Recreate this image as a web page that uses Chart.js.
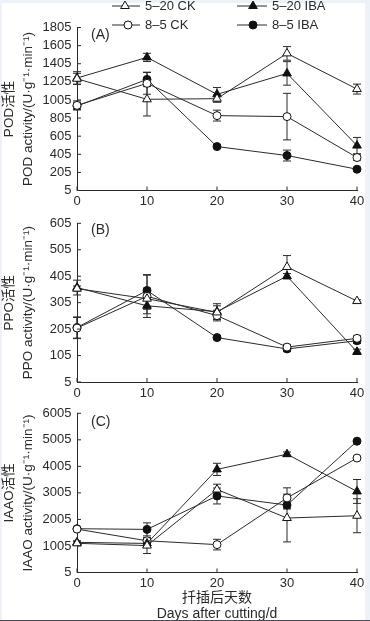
<!DOCTYPE html>
<html><head><meta charset="utf-8">
<script src="https://cdn.jsdelivr.net/npm/chart.js@4.4.1/dist/chart.umd.min.js"></script>
<style>
html,body{margin:0;padding:0;overflow:hidden;background:#edf2f9;width:370px;height:621px;}
#frame{position:absolute;left:2px;top:3px;width:363px;height:617px;background:#fff;}
#bottomline{position:absolute;left:0;top:620px;width:370px;height:1px;background:#4a4a58;}
canvas{position:absolute;left:0;}
</style></head><body>
<div id="frame"></div>
<canvas id="cA" width="370" height="210" style="top:0px"></canvas>
<canvas id="cB" width="370" height="190" style="top:210px"></canvas>
<canvas id="cC" width="370" height="225" style="top:400px"></canvas>
<div id="bottomline"></div>
<script>
// ---- data ----
const days = [0, 10, 20, 30, 40];
const seriesNames = ['5–20 CK', '5–20 IBA', '8–5 CK', '8–5 IBA'];

const podCK520  = [1239, 1012, 1019, 1519, 1125];
const podIBA520 = [1247, 1475, 1067, 1298, 501];
const podCK85   = [945, 1188, 832, 821, 369];
const podIBA85  = [938, 1232, 490, 391, 240];
const podErrCK520  = [60, 184, 40, 75, 55];
const podErrIBA520 = [70, 45, 75, 130, 90];
const podErrCK85   = [50, 120, 60, 257, 30];
const podErrIBA85  = [40, 80, 20, 60, 20];

const ppoCK520  = [358, 320, 268, 440, 311];
const ppoIBA520 = [362, 293, 271, 405, 119];
const ppoCK85   = [209, 329, 256, 137, 170];
const ppoIBA85  = [211, 351, 173, 130, 161];
const ppoErrCK520  = [10, 40, 25, 43, 5];
const ppoErrIBA520 = [28, 30, 30, 10, 10];
const ppoErrCK85   = [40, 80, 20, 10, 10];
const ppoErrIBA85  = [40, 60, 8, 10, 10];

const iaaoCK520  = [1105, 1020, 3133, 2058, 2144];
const iaaoIBA520 = [1141, 1100, 3891, 4465, 3060];
const iaaoCK85   = [1640, 1200, 1056, 2816, 4319];
const iaaoIBA85  = [1655, 1630, 2889, 2547, 4954];
const iaaoErrCK520  = [60, 300, 200, 900, 640];
const iaaoErrIBA520 = [60, 150, 230, 80, 450];
const iaaoErrCK85   = [60, 100, 200, 380, 60];
const iaaoErrIBA85  = [60, 245, 300, 150, 60];

const podTicks  = [5, 205, 405, 605, 805, 1005, 1205, 1405, 1605, 1805];
const ppoTicks  = [5, 105, 205, 305, 405, 505, 605];
const iaaoTicks = [5, 1005, 2005, 3005, 4005, 5005, 6005];
const xTicks = [0, 10, 20, 30, 40];

const podTitle  = ['POD活性', 'POD activity/(U·g⁻¹·min⁻¹)'];
const ppoTitle  = ['PPO活性', 'PPO activity/(U·g⁻¹·min⁻¹)'];
const iaaoTitle = ['IAAO活性', 'IAAO activity/(U·g⁻¹·min⁻¹)'];
const xTitle = ['扦插后天数', 'Days after cutting/d'];

// ---- styling ----
const FONT = "'Liberation Sans', 'Noto Sans CJK SC', sans-serif";
const INK = '#2a2a2a';
const styles = [
  {pointStyle: 'triangle', fill: '#ffffff', radius: 5},
  {pointStyle: 'triangle', fill: '#111111', radius: 5},
  {pointStyle: 'circle', fill: '#ffffff', radius: 4},
  {pointStyle: 'circle', fill: '#111111', radius: 4}
];

function makeDatasets(valueSets, errSets) {
  return valueSets.map((vals, s) => ({
    label: seriesNames[s],
    data: days.map((d, i) => ({x: d, y: vals[i]})),
    errors: errSets[s],
    borderColor: INK,
    borderWidth: 1,
    pointStyle: styles[s].pointStyle,
    pointRadius: styles[s].radius,
    pointHoverRadius: styles[s].radius,
    pointBackgroundColor: styles[s].fill,
    pointBorderColor: '#111',
    pointBorderWidth: 1,
    tension: 0,
    clip: false,
    fill: false
  }));
}

const errorBarPlugin = {
  id: 'errbars',
  beforeDatasetsDraw(chart) {
    const {ctx, scales: {x, y}} = chart;
    ctx.save();
    ctx.strokeStyle = INK; ctx.lineWidth = 1;
    chart.data.datasets.forEach(ds => {
      ds.data.forEach((p, i) => {
        const e = ds.errors[i]; if (!e) return;
        const px = x.getPixelForValue(p.x);
        const y1 = y.getPixelForValue(p.y + e), y2 = y.getPixelForValue(p.y - e);
        ctx.beginPath();
        ctx.moveTo(px, y1); ctx.lineTo(px, y2);
        ctx.moveTo(px - 4, y1); ctx.lineTo(px + 4, y1);
        ctx.moveTo(px - 4, y2); ctx.lineTo(px + 4, y2);
        ctx.stroke();
      });
    });
    ctx.restore();
  }
};

const innerTicksPlugin = {
  id: 'innerTicks',
  afterDraw(chart) {
    const {ctx, scales: {x, y}, chartArea: a} = chart;
    ctx.save();
    ctx.strokeStyle = INK; ctx.lineWidth = 1;
    ctx.beginPath();
    y.ticks.forEach(t => { const py = y.getPixelForValue(t.value); ctx.moveTo(a.left, py); ctx.lineTo(a.left + 4, py); });
    x.ticks.forEach(t => { const px = x.getPixelForValue(t.value); ctx.moveTo(px, a.bottom); ctx.lineTo(px, a.bottom - 4); });
    ctx.stroke();
    ctx.restore();
  }
};

const panelLabelPlugin = {
  id: 'panelLabel',
  afterDraw(chart, args, opts) {
    if (!opts.text) return;
    const {ctx, chartArea: a} = chart;
    ctx.save();
    ctx.fillStyle = INK;
    ctx.font = '14px ' + FONT;
    ctx.textBaseline = 'middle';
    ctx.textAlign = 'left';
    ctx.fillText(opts.text, a.left + 14, a.top + opts.dy);
    ctx.restore();
  }
};

const legendPlugin = {
  id: 'customLegend',
  afterDraw(chart, args, opts) {
    if (!opts.items) return;
    const {ctx} = chart;
    ctx.save();
    opts.items.forEach((it, s) => {
      const ds = chart.data.datasets[s];
      ctx.strokeStyle = INK; ctx.lineWidth = 1;
      ctx.beginPath(); ctx.moveTo(it.x0, it.y); ctx.lineTo(it.x1, it.y); ctx.stroke();
      ctx.fillStyle = ds.pointBackgroundColor;
      ctx.strokeStyle = '#111';
      Chart.helpers.drawPoint(ctx, {pointStyle: ds.pointStyle, radius: ds.pointRadius, borderWidth: 1, rotation: 0}, it.mx, it.y);
      ctx.fillStyle = INK;
      ctx.font = '13px ' + FONT;
      ctx.textBaseline = 'middle';
      ctx.textAlign = 'left';
      ctx.fillText(ds.label, it.tx, it.y);
    });
    ctx.restore();
  }
};

const plainNumber = v => String(v);

function makeChart(id, valueSets, errSets, yTicks, yTitle, opt) {
  const ctx = document.getElementById(id);
  return new Chart(ctx, {
    type: 'line',
    data: {datasets: makeDatasets(valueSets, errSets)},
    options: {
      responsive: false,
      animation: false,
      devicePixelRatio: 1,
      layout: {padding: {top: opt.padTop, left: 0, right: 13, bottom: 0}},
      plugins: {
        legend: {display: false},
        tooltip: {enabled: false},
        panelLabel: {text: opt.label, dy: opt.labelDy},
        customLegend: {items: opt.legend}
      },
      scales: {
        x: {
          type: 'linear', min: 0, max: 40,
          afterBuildTicks: s => { s.ticks = xTicks.map(v => ({value: v})); },
          afterFit: s => { s.height = opt.xHeight; },
          grid: {drawOnChartArea: false, drawTicks: false},
          border: {display: true, color: INK, width: 1},
          ticks: {color: INK, font: {family: FONT, size: 13}, padding: 3.5, maxRotation: 0, autoSkip: false, callback: plainNumber},
          title: opt.xTitle ? {display: true, text: opt.xTitle, color: INK,
            font: {family: FONT, size: 14, lineHeight: '16px'}, padding: {top: 0, bottom: 3}} : {display: false}
        },
        y: {
          type: 'linear', min: yTicks[0], max: yTicks[yTicks.length - 1],
          afterBuildTicks: s => { s.ticks = yTicks.map(v => ({value: v})); },
          afterFit: s => { s.width = 77; },
          grid: {drawOnChartArea: false, drawTicks: false},
          border: {display: true, color: INK, width: 1},
          ticks: {color: INK, font: {family: FONT, size: 13}, padding: 5.5, autoSkip: false, callback: plainNumber},
          title: {display: true, text: yTitle, color: INK,
            font: {family: FONT, size: 13.5, lineHeight: '19px'}, padding: {top: 0, bottom: 0}}
        }
      }
    },
    plugins: [errorBarPlugin, innerTicksPlugin, panelLabelPlugin, legendPlugin]
  });
}

makeChart('cA', [podCK520, podIBA520, podCK85, podIBA85],
  [podErrCK520, podErrIBA520, podErrCK85, podErrIBA85], podTicks, podTitle,
  {padTop: 27.5, xHeight: 19.5, label: '(A)', labelDy: 8,
   legend: [
     {x0: 112, x1: 140, mx: 125, tx: 145, y: 6},
     {x0: 237, x1: 267, mx: 253, tx: 272, y: 6},
     {x0: 112, x1: 140, mx: 128, tx: 145, y: 25},
     {x0: 237, x1: 267, mx: 253, tx: 272, y: 25}
   ]});

makeChart('cB', [ppoCK520, ppoIBA520, ppoCK85, ppoIBA85],
  [ppoErrCK520, ppoErrIBA520, ppoErrCK85, ppoErrIBA85], ppoTicks, ppoTitle,
  {padTop: 8.3, xHeight: 18, label: '(B)', labelDy: 7});

makeChart('cC', [iaaoCK520, iaaoIBA520, iaaoCK85, iaaoIBA85],
  [iaaoErrCK520, iaaoErrIBA520, iaaoErrCK85, iaaoErrIBA85], iaaoTicks, iaaoTitle,
  {padTop: 9, xHeight: 52.5, label: '(C)', labelDy: 9, xTitle: xTitle});
</script>
</body></html>
